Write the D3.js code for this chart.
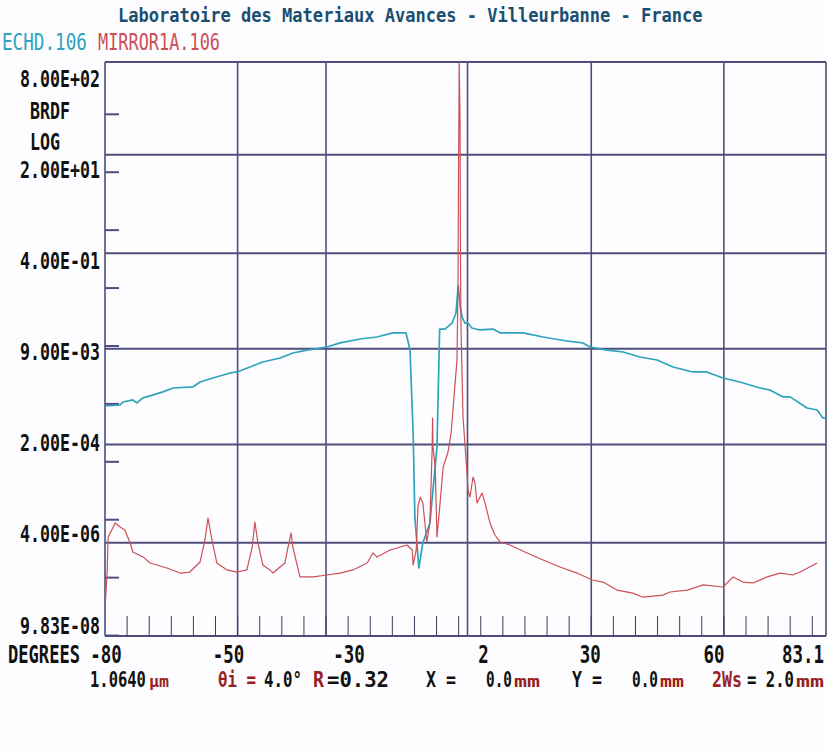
<!DOCTYPE html>
<html>
<head>
<meta charset="utf-8">
<script src="https://cdn.jsdelivr.net/npm/d3@7"></script>
<style>
  html, body { margin: 0; padding: 0; background: #ffffff; }
  svg { display: block; }
</style>
</head>
<body>
<svg id="chart" width="827" height="755"></svg>
<script>
// ---- BRDF scans (angle in degrees, BRDF in sr^-1) ----
const echdAngle = [-80, -76.6, -75.9, -73.7, -72.8, -71.4, -69.1, -66.9, -64.6, -60.1,
  -58.5, -55.6, -51.7, -50.1, -47.2, -44.3, -40.4, -37.5, -34.3, -29.8,
  -26.8, -22.3, -18.5, -14.9, -11.9, -11.0, -10.3, -9.9, -9.0, -8.1,
  -6.5, -4.9, -4.3, -3.1, -1.5, -0.6, -0.1, 0.4, 0.8, 1.4,
  2.1, 3.0, 4.8, 7.8, 9.4, 14.6, 19.1, 24.5, 28.1, 29.7,
  33.6, 37.2, 41.0, 44.9, 48.5, 53.0, 56.1, 59.8, 63.6, 68.2,
  70.4, 73.4, 75.0, 78.8, 81.1, 82.4, 83.1];
const echdBrdf = [9.2e-4, 9.6e-4, 1.08e-3, 1.17e-3, 1.04e-3, 1.27e-3, 1.43e-3, 1.61e-3, 1.88e-3, 1.96e-3,
  2.39e-3, 2.8e-3, 3.42e-3, 3.56e-3, 4.34e-3, 5.29e-3, 6.2e-3, 7.56e-3, 8.5e-3, 9.6e-3,
  1.13e-2, 1.32e-2, 1.43e-2, 1.68e-2, 1.68e-2, 8.5e-3, 3.15e-4, 1.11e-5, 1.47e-6, 3.97e-6,
  8.8e-6, 1.8e-4, 1.96e-2, 1.96e-2, 2.49e-2, 3.71e-2, 0.11, 0.045, 0.0316, 0.0249,
  0.0249, 0.0204, 0.0189, 0.0196, 0.0168, 0.0168, 0.0143, 0.0122, 0.0113, 9.6e-3,
  8.5e-3, 7.87e-3, 6.45e-3, 5.73e-3, 4.34e-3, 3.56e-3, 3.56e-3, 2.8e-3, 2.39e-3, 1.88e-3,
  1.74e-3, 1.32e-3, 1.32e-3, 8.5e-4, 7.85e-4, 5.7e-4, 5.7e-4];

const mirrorAngle = [-80, -79.5, -79.3, -77.7, -76.6, -75.5, -74.3, -73.7, -71.4, -69.8,
  -66.0, -63.0, -60.8, -58.5, -57.4, -56.7, -55.8, -54.7, -52.4, -50.1,
  -47.9, -46.7, -46.1, -45.4, -44.3, -42.7, -42.0, -40.4, -39.3, -38.6,
  -37.9, -37.5, -35.9, -32.9, -29.8, -26.8, -23.9, -20.7, -19.4, -18.5,
  -15.5, -11.7, -10.5, -10.3, -9.6, -9.2, -8.7, -8.1, -7.2, -6.5,
  -6.0, -5.9, -5.8, -5.3, -4.9, -4.2, -3.5, -2.4, -1.7, -0.8,
  -0.37, -0.15, -0.03, 0.13, 0.31, 0.42, 0.53, 0.99, 1.89, 2.12,
  2.57, 3.25, 3.70, 4.15, 5.28, 5.96, 7.09, 8.22, 9.36, 11.6,
  15.5, 19.1, 22.9, 26.8, 30.2, 32.7, 35.8, 39.4, 41.7, 46.2,
  47.8, 51.7, 55.3, 59.8, 62.1, 64.3, 66.6, 69.8, 72.7, 75.6,
  77.2, 79.4, 81.1];
const mirrorBrdf = [2.8e-7, 1.36e-6, 5.0e-6, 8.8e-6, 7.5e-6, 6.65e-6, 3.97e-6, 2.77e-6, 2.28e-6, 1.79e-6,
  1.47e-6, 1.2e-6, 1.25e-6, 1.86e-6, 4.47e-6, 1.07e-5, 4.47e-6, 1.79e-6, 1.36e-6, 1.25e-6,
  1.36e-6, 3.38e-6, 9.14e-6, 3.97e-6, 1.66e-6, 1.36e-6, 1.2e-6, 1.53e-6, 1.79e-6, 3.38e-6,
  5.9e-6, 3.38e-6, 1.03e-6, 1.03e-6, 1.11e-6, 1.2e-6, 1.36e-6, 1.79e-6, 2.67e-6, 2.28e-6,
  3.0e-6, 3.66e-6, 3.0e-6, 1.66e-6, 3.0e-6, 1.66e-5, 2.47e-5, 1.95e-5, 4.13e-6, 8.8e-6,
  1.6e-4, 5.7e-4, 1.8e-4, 8.15e-5, 5.04e-6, 1.95e-5, 8.15e-5, 1.48e-4, 3.15e-4, 2.3e-3,
  5.7e-3, 0.104, 8.3, 800, 80, 0.305, 0.0213, 5.9e-4, 6.4e-5, 3.26e-5,
  2.47e-5, 5.47e-5, 4.31e-5, 1.95e-5, 2.9e-5, 1.95e-5, 8.8e-6, 5.45e-6, 4.13e-6, 3.66e-6,
  2.67e-6, 2.02e-6, 1.53e-6, 1.2e-6, 9.1e-7, 8.4e-7, 6.1e-7, 5.4e-7, 4.6e-7, 5.0e-7,
  5.65e-7, 6.1e-7, 7.5e-7, 6.9e-7, 1.03e-6, 8.4e-7, 8.1e-7, 1.03e-6, 1.2e-6, 1.11e-6,
  1.25e-6, 1.53e-6, 1.79e-6];

// ---- axes ----
const angleDomain = [-80, 83.1];
const brdfDomain = [9.83e-8, 800];
const yTickValues = [9.83e-8, 4e-6, 2e-4, 9e-3, 0.4, 20, 800];
const yTickLabels = ["9.83E-08", "4.00E-06", "2.00E-04", "9.00E-03", "4.00E-01", "2.00E+01", "8.00E+02"];
const yDecades = [1e-7, 1e-6, 1e-5, 1e-4, 1e-3, 1e-2, 1e-1, 1, 10, 100];
const xGridValues = [-50, -30, 2, 30, 60];
const xLabelValues = [-80, -50, -30, 2, 30, 60, 83.1];
const xLabelTexts = ["-80", "-50", "-30", "2", "30", "60", "83.1"];
const xMinorTicks = d3.range(-75, 81, 5);

const seriesNames = ["ECHD.106", "MIRROR1A.106"];
const titleText = "Laboratoire des Materiaux Avances - Villeurbanne - France";

// ---- layout ----
const L = 105, R = 826, T = 62, B = 636;
const FONT = "'DejaVu Sans Mono', 'Liberation Mono', monospace";
const ADVANCE = 0.602;   // glyph advance of DejaVu Sans Mono, in em
const CAP = 0.729;       // cap height of DejaVu Sans Mono, in em
const gridColor = "#4e4e7c";
const cyan = "#2ea3bb";
const red = "#cc4f55";
const darkRed = "#9a1f22";
// horizontal shift of the angle labels relative to their tick (text-cell placement)
const xLabelShift = [1, -9, 23, 16, -1, -10, -23];

const svg = d3.select("#chart");
svg.append("rect").attr("width", 827).attr("height", 755).attr("fill", "#fdfdff");

const x = d3.scaleLinear().domain(angleDomain).range([L, R]);
const y = d3.scaleLog().domain(brdfDomain).range([B, T]);

// tall, narrow fixed-pitch text: the font size sets the cell width,
// a vertical stretch brings the capitals to the wanted height
function cellText(str, x0, baseline, width, capH, color, weight) {
  const n = Array.from(str).length;
  const fs = width / n / ADVANCE;
  const sy = capH / (CAP * fs);
  return svg.append("text")
    .attr("transform", `translate(${x0},${baseline}) scale(1,${sy.toFixed(3)})`)
    .attr("font-family", FONT)
    .attr("font-size", fs.toFixed(2))
    .attr("font-weight", weight || "bold")
    .attr("fill", color || "#111")
    .text(str);
}

// ---- grid ----
const grid = svg.append("g");
grid.selectAll("line.h").data(yTickValues).join("line")
  .attr("x1", L).attr("x2", R)
  .attr("y1", d => y(d)).attr("y2", d => y(d))
  .attr("stroke", gridColor).attr("stroke-width", 2);
grid.selectAll("line.v").data(xGridValues.concat(angleDomain)).join("line")
  .attr("x1", d => x(d)).attr("x2", d => x(d))
  .attr("y1", T).attr("y2", B)
  .attr("stroke", gridColor).attr("stroke-width", 1.6);

// decade ticks along the left edge
grid.selectAll("line.dec").data(yDecades).join("line")
  .attr("x1", L).attr("x2", L + 14)
  .attr("y1", d => y(d)).attr("y2", d => y(d))
  .attr("stroke", gridColor).attr("stroke-width", 2);

// 5-degree ticks along the bottom edge
grid.selectAll("line.mt").data(xMinorTicks).join("line")
  .attr("x1", d => x(d)).attr("x2", d => x(d))
  .attr("y1", B - 20).attr("y2", B)
  .attr("stroke", "#3c3c5a").attr("stroke-width", 1);

// ---- curves ----
svg.append("clipPath").attr("id", "plot")
  .append("rect").attr("x", L).attr("y", T).attr("width", R - L).attr("height", B - T);

const line = d3.line().x(d => x(d[0])).y(d => y(d[1]));
const curves = svg.append("g").attr("clip-path", "url(#plot)");

const echd = echdAngle.map((a, i) => [a, echdBrdf[i]]);
const mirror = mirrorAngle.map((a, i) => [a, mirrorBrdf[i]]);

curves.append("path").datum(echd)
  .attr("d", line).attr("fill", "none")
  .attr("stroke", cyan).attr("stroke-width", 1.7).attr("stroke-linejoin", "round");
curves.append("path").datum(mirror)
  .attr("d", line).attr("fill", "none")
  .attr("stroke", red).attr("stroke-width", 1.2).attr("stroke-linejoin", "round");

// ---- texts ----
cellText(titleText, 118, 22, 585, 14, "#1a4f70", "bold");
cellText(seriesNames[0], 2, 50, 85, 17, cyan, "normal");
cellText(seriesNames[1], 98, 50, 122, 17, red, "normal");

// value labels down the left: placed on evenly spaced text rows
const labelRow = d3.scalePoint().domain(d3.range(yTickLabels.length)).range([633.5, 86.5]);
yTickLabels.forEach((t, i) => cellText(t, 20, labelRow(i), 80, 16.5));
cellText("BRDF", 30, 119, 40, 16.5);
cellText("LOG", 30, 150, 30, 16.5);

cellText("DEGREES", 8, 663, 72, 17.5);
xLabelTexts.forEach((t, i) => {
  const w = t.length * 10.5;
  cellText(t, x(xLabelValues[i]) + xLabelShift[i] - w / 2, 663, w, 17.5);
});

// acquisition parameters line: [x, text, colour, width, cap height]
const infoBase = 687;
[
  [90, "1.0640", "#111", 56, 16],
  [149, "µm", darkRed, 20, 12],
  [218, "θi =", darkRed, 38, 16],
  [264, "4.0°", "#111", 38, 16],
  [313, "R", darkRed, 11, 16],
  [327, "=0.32", "#111", 62, 16],
  [426, "X =", "#111", 30, 16],
  [486, "0.0", "#111", 26, 16],
  [514, "mm", darkRed, 26, 12],
  [572, "Y =", "#111", 30, 16],
  [632, "0.0", "#111", 26, 16],
  [660, "mm", darkRed, 24, 12],
  [712, "2Ws", darkRed, 30, 16],
  [747, "= 2.0", "#111", 47, 16],
  [796, "mm", darkRed, 28, 12]
].forEach(([px, t, c, w, h]) => cellText(t, px, infoBase, w, h, c));
</script>
</body>
</html>
